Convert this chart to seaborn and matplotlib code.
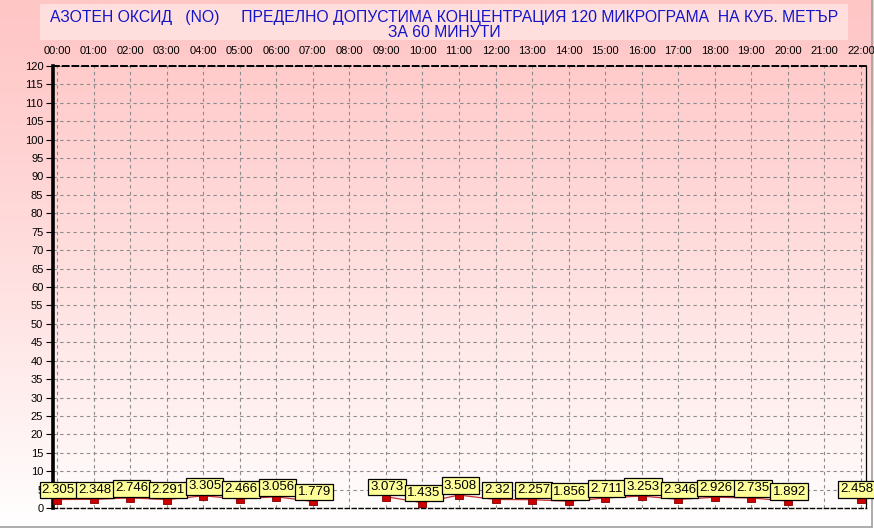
import numpy as np
import pandas as pd
import matplotlib
matplotlib.use("Agg")
import matplotlib.pyplot as plt
import seaborn as sns

# ---- data ----
hours = ["00:00", "01:00", "02:00", "03:00", "04:00", "05:00", "06:00", "07:00",
         "08:00", "09:00", "10:00", "11:00", "12:00", "13:00", "14:00", "15:00",
         "16:00", "17:00", "18:00", "19:00", "20:00", "21:00", "22:00"]
values = [2.305, 2.348, 2.746, 2.291, 3.305, 2.466, 3.056, 1.779,
          np.nan, 3.073, 1.435, 3.508, 2.32, 2.257, 1.856, 2.711,
          3.253, 2.346, 2.926, 2.735, 1.892, np.nan, 2.458]
yticks = list(range(0, 121, 5))
title_text = ("АЗОТЕН ОКСИД   (NO)     ПРЕДЕЛНО ДОПУСТИМА КОНЦЕНТРАЦИЯ 120 МИКРОГРАМА  НА КУБ. МЕТЪР\n"
              "ЗА 60 МИНУТИ")

sns.set_theme(style="white")
plt.rcParams["font.family"] = ["Liberation Sans", "DejaVu Sans"]

W, H = 874, 529
fig = plt.figure(figsize=(W / 100, H / 100), dpi=100)

# background gradient
bg = fig.add_axes([0, 0, 1, 1], zorder=-10)
grad = np.linspace(0, 1, 256)[:, None] ** 1.2
top = np.array([255, 198, 198]) / 255
bot = np.array([255, 255, 255]) / 255
img = top[None, None, :] * (1 - grad[:, :, None]) + bot[None, None, :] * grad[:, :, None]
img = np.repeat(img, 2, axis=1)
bg.imshow(img, aspect="auto", extent=[0, 1, 0, 1], origin="upper")
bg.set_xlim(0, 1)
bg.set_ylim(0, 1)
bg.axis("off")
# title box
bg.add_patch(plt.Rectangle((40 / W, 1 - 40 / H), (848 - 40) / W, 36 / H,
                           facecolor=(1, 0.87, 0.87), edgecolor="none"))
# window frame lines
bg.plot([0, 872 / W], [1 - 527 / H, 1 - 527 / H], color="#a0a0a0", lw=1.2)
bg.plot([872 / W, 872 / W], [1 - 527 / H, 1], color="#a0a0a0", lw=1.2)

fig.text(444 / W, 1 - 25 / H, title_text, ha="center", va="center",
         color="#1414c8", fontsize=11.3, linespacing=1.05)

# main axes
left, right, btm, tp = 53, 866, 508, 66
ax = fig.add_axes([left / W, 1 - btm / H, (right - left) / W, (btm - tp) / H])
ax.set_facecolor("none")

x = np.arange(len(hours))
df = pd.DataFrame({"x": x, "value": values, "label": hours})
df["seg"] = np.cumsum(pd.isna(df["value"]).astype(int))
dfn = df.dropna()

sns.lineplot(data=dfn, x="x", y="value", units="seg", estimator=None,
             color="#c83030", lw=0.9, ax=ax, zorder=3)
sns.scatterplot(data=dfn, x="x", y="value", marker="s", s=28, color="#cc0000",
                edgecolor="#800000", linewidth=0.6, ax=ax, zorder=4)

last = len(hours) - 1
for xi, v in zip(dfn["x"], dfn["value"]):
    dx = -3 if xi == last else 1
    ax.annotate(f"{v:g}", (xi, v), xytext=(dx, 2.5), textcoords="offset points",
                ha="center", va="bottom", fontsize=9.5, color="black", zorder=6,
                annotation_clip=False,
                bbox=dict(boxstyle="square,pad=0.17", facecolor="#ffff99",
                          edgecolor="black", linewidth=0.9))

ax.set_xlim(-0.109, 22.137)
ax.set_ylim(0, 120)
ax.set_xticks(x)
ax.set_xticklabels(hours)
ax.set_yticks(yticks)
ax.set_yticklabels([str(t) for t in yticks])
ax.xaxis.tick_top()
ax.tick_params(axis="x", top=True, bottom=False, length=0, pad=7,
               labelsize=8, labelcolor="black")
ax.tick_params(axis="y", left=True, length=5, width=0.8, pad=2,
               labelsize=8, labelcolor="black", color="black")
ax.set_xlabel("")
ax.set_ylabel("")

ax.grid(True, color="#8c8c8c", linestyle=(0, (3, 3)), linewidth=0.8)

for s in ["left", "right", "top", "bottom"]:
    ax.spines[s].set_visible(True)
    ax.spines[s].set_color("black")
ax.spines["left"].set_linewidth(2.6)
ax.spines["right"].set_linewidth(0.9)
ax.spines["top"].set_linewidth(1.4)
ax.spines["top"].set_linestyle((0, (3, 2)))
ax.spines["bottom"].set_linewidth(1.0)
ax.spines["bottom"].set_linestyle((0, (3, 2)))

fig.savefig("out.png", dpi=100)
